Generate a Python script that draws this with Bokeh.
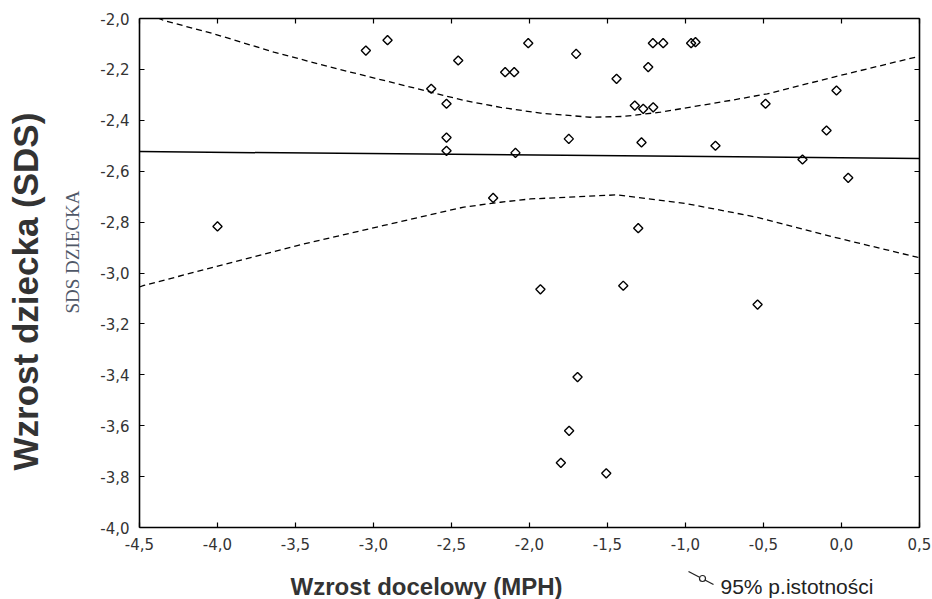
import math
from bokeh.plotting import figure
from bokeh.layouts import column
from bokeh.models import (Range1d, LinearAxis, FixedTicker, Label, Title,
                          ColumnDataSource)
from bokeh.embed import file_html
from bokeh.resources import INLINE

# ---- data ----
mph = [-4.00, -3.049, -2.910, -2.630, -2.532, -2.457, -2.532, -2.532,
       -2.156, -2.098, -2.090, -2.233, -2.008, -1.701, -1.748, -1.442,
       -1.239, -1.209, -1.143, -0.964, -0.936, -1.325, -1.271, -1.207,
       -1.282, -0.808, -0.487, -0.032, -0.096, -0.250, 0.043, -1.303,
       -1.930, -1.399, -0.538, -1.692, -1.746, -1.799, -1.508]
sds = [-2.817, -2.126, -2.085, -2.276, -2.335, -2.165, -2.468, -2.520,
       -2.211, -2.211, -2.528, -2.705, -2.097, -2.139, -2.473, -2.237,
       -2.191, -2.097, -2.097, -2.097, -2.093, -2.342, -2.355, -2.349,
       -2.487, -2.500, -2.335, -2.283, -2.440, -2.554, -2.626, -2.824,
       -3.064, -3.050, -3.124, -3.409, -3.620, -3.746, -3.787]

reg_x = [-4.5, 0.5]
reg_y = [-2.523, -2.550]

upper_x = [-4.5, -4.344, -4.024, -3.639, -3.276, -2.720, -2.421, -2.186,
           -1.930, -1.609, -1.400, -1.160, -0.712, -0.476, -0.049, 0.474, 0.5]
upper_y = [-1.965, -2.008, -2.060, -2.132, -2.191, -2.276, -2.322, -2.349,
           -2.372, -2.388, -2.385, -2.368, -2.322, -2.296, -2.230, -2.152, -2.148]

lower_x = [-4.5, -4.472, -4.024, -3.489, -2.934, -2.421, -2.186, -1.994,
           -1.438, -0.989, -0.540, -0.049, 0.485, 0.5]
lower_y = [-3.055, -3.049, -2.977, -2.892, -2.813, -2.741, -2.722, -2.709,
           -2.693, -2.728, -2.781, -2.859, -2.938, -2.940]

x_ticks = [-4.5, -4.0, -3.5, -3.0, -2.5, -2.0, -1.5, -1.0, -0.5, 0.0, 0.5]
x_tick_labels = ["-4,5", "-4,0", "-3,5", "-3,0", "-2,5", "-2,0", "-1,5",
                 "-1,0", "-0,5", "0,0", "0,5"]
y_ticks = [-4.0, -3.8, -3.6, -3.4, -3.2, -3.0, -2.8, -2.6, -2.4, -2.2, -2.0]
y_tick_labels = ["-4,0", "-3,8", "-3,6", "-3,4", "-3,2", "-3,0", "-2,8",
                 "-2,6", "-2,4", "-2,2", "-2,0"]

x_title = "Wzrost docelowy (MPH)"
y_title = "Wzrost dziecka (SDS)"
y_var = "SDS  DZIECKA"
legend_text = "95% p.istotności"

W = 932
MAIN_H = 560
STRIP_H = 39
FRAME_W = 780

# ---- main figure ----
p = figure(width=W, height=MAIN_H, output_backend="svg", toolbar_location=None,
           x_range=Range1d(-4.5, 0.5), y_range=Range1d(-4.0, -2.0),
           min_border_left=139, min_border_right=13, min_border_top=18,
           min_border_bottom=33, x_axis_location=None, y_axis_location=None)
p.grid.visible = False
p.outline_line_color = None
p.background_fill_color = "white"
p.border_fill_color = "white"

tick_font = "DejaVu Sans"
xov = {t: l for t, l in zip(x_ticks, x_tick_labels)}
yov = {t: l for t, l in zip(y_ticks, y_tick_labels)}

def style_axis(ax, ticks, overrides, show_labels):
    ax.ticker = FixedTicker(ticks=ticks)
    ax.minor_tick_line_color = None
    ax.major_tick_in = 5
    ax.major_tick_out = 0
    ax.major_tick_line_color = "black"
    ax.major_tick_line_width = 1.2
    ax.axis_line_color = "black"
    ax.axis_line_width = 1.6
    ax.major_label_text_font = tick_font
    ax.major_label_text_color = "#333333"
    if show_labels:
        ax.major_label_overrides = overrides
        ax.major_label_text_font_size = "15px"
        ax.major_label_standoff = 10
    else:
        ax.major_label_overrides = {t: "" for t in ticks}
        ax.major_label_text_font_size = "1px"
        ax.major_label_standoff = 0

bottom = LinearAxis()
style_axis(bottom, x_ticks, xov, True)
p.add_layout(bottom, "below")
left = LinearAxis()
style_axis(left, y_ticks, yov, True)
p.add_layout(left, "left")
top = LinearAxis()
style_axis(top, x_ticks, xov, False)
p.add_layout(top, "above")
right = LinearAxis()
style_axis(right, y_ticks, yov, False)
p.add_layout(right, "right")

# left-side titles
p.add_layout(Title(text=y_var, text_font="Liberation Serif",
                   text_font_size="19px", text_font_style="normal",
                   text_color="#505868", align="left", offset=214,
                   standoff=30), "left")
p.add_layout(Title(text=y_title, text_font="Liberation Sans",
                   text_font_style="bold", text_font_size="35px",
                   text_color="#333333", align="left", offset=57,
                   standoff=0), "left")

# confidence band and regression line
p.line(upper_x, upper_y, line_color="black", line_width=1.3, line_dash="6 4")
p.line(lower_x, lower_y, line_color="black", line_width=1.3, line_dash="6 4")
p.line(reg_x, reg_y, line_color="black", line_width=1.5)

# points (hollow diamonds, as squares turned by 45 degrees)
src = ColumnDataSource(dict(x=mph, y=sds))
p.scatter("x", "y", source=src, marker="square", angle=math.pi / 4, size=6.5,
          fill_color="white", fill_alpha=0.0, line_color="black", line_width=1.4)

# ---- bottom strip with x title and legend ----
# (its frame is aligned with the main frame: 780 px wide, starting at x=139)
s = figure(width=W, height=STRIP_H, output_backend="svg", toolbar_location=None,
           x_range=Range1d(0, FRAME_W), y_range=Range1d(0, STRIP_H),
           min_border=0, x_axis_location=None, y_axis_location=None)
s.grid.visible = False
s.outline_line_color = None
s.background_fill_color = "white"
s.border_fill_color = "white"

s.add_layout(Label(x=151, y=13, text=x_title, text_font="Liberation Sans",
                   text_font_style="bold", text_font_size="24px",
                   text_color="#333333", text_align="left",
                   text_baseline="alphabetic"))
# legend icon: short line with a small ring
s.line([549, 574], [28, 15], line_color="#222222", line_width=1.3)
s.scatter([563], [21], marker="circle", size=6, fill_color="white",
          line_color="#222222", line_width=1.2)
s.add_layout(Label(x=581, y=13, text=legend_text, text_font="Liberation Sans",
                   text_font_size="21px", text_color="#222222",
                   text_align="left", text_baseline="alphabetic"))

layout = column(p, s, spacing=0)
open("out.html", "w").write(file_html(layout, INLINE))
